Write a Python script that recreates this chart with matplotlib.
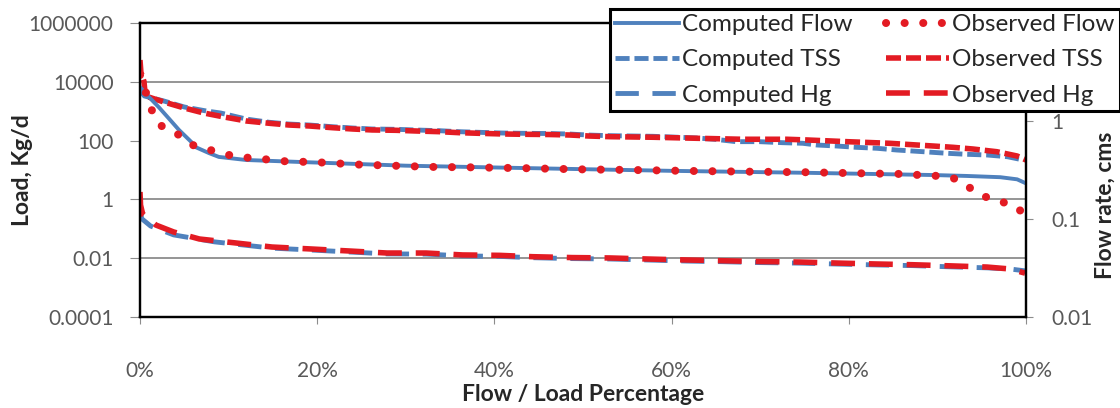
import matplotlib
matplotlib.use("Agg")
import matplotlib.pyplot as plt
from matplotlib.ticker import FixedLocator, FixedFormatter

plt.rcParams["font.family"] = ["Lato", "DejaVu Sans"]

# ---- data (x in % of time, loads in kg/d, flow in cms)
cf_pct = [0, 1.0, 2.1, 3.3, 4.4, 5.8, 6.3, 7.8, 8.9, 12.0, 18.0, 30, 43.4,
          60, 75.3, 89.5, 93.3, 97.1, 99.0, 100]
cf_val = [2.22, 1.76, 1.39, 1.05, 0.81, 0.61, 0.54, 0.47, 0.43, 0.40, 0.382,
          0.35, 0.331, 0.31, 0.296, 0.281, 0.275, 0.267, 0.254, 0.231]

of_pct = [0, 0.5, 1.4, 2.5, 4.3, 5.9, 7.8, 9.7, 11.8, 13.8, 15.9, 20.1, 24.4,
          28.6, 32.9, 37.1, 43.4, 49.8, 56.0, 62.4, 69.0, 75.3, 81.8, 86.0,
          88.0, 90.1, 92.2, 93.7, 95.1, 96.9, 98.8, 100]
of_val = [2.95, 2.17, 1.24, 0.875, 0.728, 0.57, 0.51, 0.455, 0.425, 0.41,
          0.39, 0.379, 0.36, 0.35, 0.34, 0.337, 0.33, 0.321, 0.316, 0.309,
          0.304, 0.30, 0.292, 0.288, 0.281, 0.275, 0.256, 0.207, 0.172, 0.153,
          0.136, 0.107]

ct_pct = [0, 0.5, 2.7, 5.0, 7.5, 9.1, 12.0, 14.6, 16.8, 19.1, 21.7, 24.0,
          26.2, 28.9, 31.2, 33.8, 36.0, 38.3, 40.9, 43.2, 46.2, 48.5, 50.7,
          53.0, 57.9, 62.8, 65.0, 67.3, 69.9, 72.5, 74.8, 76.4, 78.6, 80.9,
          83.2, 85.4, 88.4, 91.1, 93.3, 95.6, 97.9, 99.7]
ct_val = [5260, 3290, 2220, 1390, 1015, 869, 540, 419, 366, 339, 297, 268,
          248, 242, 229, 217, 201, 191, 181, 177, 174, 167, 154, 147, 140,
          123, 110, 92, 92, 85, 81, 70.8, 65.5, 59, 54.7, 47.9, 41.9, 37,
          34.2, 32.4, 28.3, 21.9]

ot_pct = [0, 0.1, 0.45, 0.6, 2.7, 5.0, 7.2, 9.5, 12.0, 14.6, 16.8, 19.1, 21.7,
          24.0, 26.2, 28.9, 31.2, 33.8, 36.0, 38.3, 40.9, 43.2, 46.2, 48.5,
          50.7, 53.0, 57.9, 62.8, 68.0, 73.0, 75.3, 79.8, 84.6, 89.5, 91.8,
          94.0, 96.7, 99.0, 100]
ot_val = [55000, 21500, 10200, 3290, 2060, 1285, 869, 635, 465, 388, 339, 314,
          275, 248, 230, 224, 212, 201, 186, 177, 168, 164, 161, 155, 143, 136,
          130, 120, 111, 111, 105, 92, 81, 65.5, 59, 51.8, 41.9, 29.9, 21.9]

hg_pct = [0, 0.06, 0.3, 1.8, 3.8, 6.7, 10.8, 14.9, 19.3, 23.6, 27.9, 32.3,
          36.4, 40.6, 44.3, 48.8, 53.0, 57.2, 61.7, 65.8, 69.9, 74.5, 79.0,
          83.2, 87.2, 91.4, 95.6, 98.2, 99.9]
ohg_val = [1.79, 0.645, 0.318, 0.134, 0.078, 0.045, 0.033, 0.024, 0.0206,
           0.0176, 0.0150, 0.0150, 0.0129, 0.0125, 0.01125, 0.0105, 0.0102,
           0.0094, 0.0087, 0.0082, 0.0077, 0.0074, 0.0068, 0.00635, 0.0060,
           0.0055, 0.0050, 0.0043, 0.0031]

chg_pct = [0, 0.2, 1.2, 3.8, 8.4, 14.9, 19.3, 23.6, 27.9, 32.3, 36.4, 40.6,
           44.3, 48.8, 53.0, 57.2, 61.7, 65.8, 69.9, 74.5, 79.0, 83.2, 87.2,
           91.4, 95.6, 98.2, 99.9]
chg_val = [0.45, 0.22, 0.124, 0.062, 0.036, 0.022, 0.019, 0.0163, 0.0140,
           0.0138, 0.0120, 0.0115, 0.0104, 0.0097, 0.0094, 0.0087, 0.0080,
           0.0076, 0.0071, 0.0068, 0.0063, 0.0059, 0.0056, 0.0051, 0.0047,
           0.0043, 0.0037]

x_ticks = [0, 20, 40, 60, 80, 100]
x_labels = ["0%", "20%", "40%", "60%", "80%", "100%"]
load_ticks = [1e-4, 1e-2, 1, 1e2, 1e4, 1e6]
load_labels = ["0.0001", "0.01", "1", "100", "10000", "1000000"]
load_grid = [1e-2, 1, 1e4]
flow_ticks = [0.01, 0.1, 1]
flow_labels = ["0.01", "0.1", "1"]

BLUE = "#4f81bd"
RED = "#e31b23"
TICK_GRAY = "#595959"

fig = plt.figure(figsize=(11.2, 4.08), dpi=100)
ax = fig.add_axes([140 / 1120, 1 - 317 / 408, 886 / 1120, 294 / 408])
ax2 = ax.twinx()

ax.set_yscale("log")
ax.set_ylim(1e-4, 1e6)
ax.set_xlim(0, 100)
ax2.set_yscale("log")
ax2.set_ylim(0.01, 10)

for g in load_grid:
    ax.axhline(g, color="#8c8c8c", lw=1.3, zorder=0)

# loads on the left axis
l_ct, = ax.plot(ct_pct, ct_val, color=BLUE, lw=3.5,
                linestyle=(0, (2.9, 1.0)), label="Computed TSS")
l_chg, = ax.plot(chg_pct, chg_val, color=BLUE, lw=3.5,
                 linestyle=(0, (4.8, 2.8)), label="Computed Hg")
l_ot, = ax.plot(ot_pct, ot_val, color=RED, lw=4,
                linestyle=(0, (2.7, 0.9)), label="Observed TSS")
l_ohg, = ax.plot(hg_pct, ohg_val, color=RED, lw=4,
                 linestyle=(0, (4.3, 2.5)), label="Observed Hg")

# flow on the right axis
l_cf, = ax2.plot(cf_pct, cf_val, color=BLUE, lw=2.8, label="Computed Flow")
l_of, = ax2.plot(of_pct, of_val, color=RED, lw=5.8,
                 linestyle=(0, (0.01, 2.3)), dash_capstyle="round",
                 label="Observed Flow")

ax.set_xticks(x_ticks)
ax.set_xticklabels(x_labels)
ax.yaxis.set_major_locator(FixedLocator(load_ticks))
ax.yaxis.set_major_formatter(FixedFormatter(load_labels))
ax.yaxis.set_minor_locator(FixedLocator([]))
ax2.yaxis.set_major_locator(FixedLocator(flow_ticks))
ax2.yaxis.set_major_formatter(FixedFormatter(flow_labels))
ax2.yaxis.set_minor_locator(FixedLocator([]))

ax.tick_params(axis="x", length=5, color="#8c8c8c", pad=27,
               labelsize=15, labelcolor=TICK_GRAY)
ax.tick_params(axis="y", length=7, color="#8c8c8c", pad=12,
               labelsize=15, labelcolor=TICK_GRAY)
ax2.tick_params(axis="y", length=5, color="#8c8c8c", pad=13,
                labelsize=15, labelcolor=TICK_GRAY)

for a in (ax, ax2):
    for s in a.spines.values():
        s.set_color("black")
        s.set_linewidth(1.6)

ax.set_xlabel("Flow / Load Percentage", fontsize=16.5, fontweight="bold",
              color="#262626")
ax.xaxis.set_label_coords(0.5, -0.265)
ax.xaxis.label.set_verticalalignment("center")
ax.set_ylabel("Load, Kg/d", fontsize=16.5, fontweight="bold", color="#262626")
ax.yaxis.set_label_coords(-0.133, 0.5)
ax.yaxis.label.set_verticalalignment("center")
ax2.set_ylabel("Flow rate, cms", fontsize=16.5, fontweight="bold",
               color="#262626")
ax2.yaxis.set_label_coords(1.089, 0.38)
ax2.yaxis.label.set_verticalalignment("center")

handles = [l_cf, l_ct, l_chg, l_of, l_ot, l_ohg]
leg = ax2.legend(handles=handles, ncol=2, loc="upper left",
                 bbox_to_anchor=(610 / 1120, 1 - 9 / 408),
                 bbox_transform=fig.transFigure, fontsize=17.5,
                 handlelength=2.6, handletextpad=0.15, columnspacing=1.35,
                 labelspacing=0.58, borderpad=0.22, borderaxespad=0,
                 frameon=True, fancybox=False, framealpha=1)
leg.get_frame().set_edgecolor("black")
leg.get_frame().set_linewidth(2.2)
for t in leg.get_texts():
    t.set_color("#262626")

fig.savefig("out.png", dpi=100)
